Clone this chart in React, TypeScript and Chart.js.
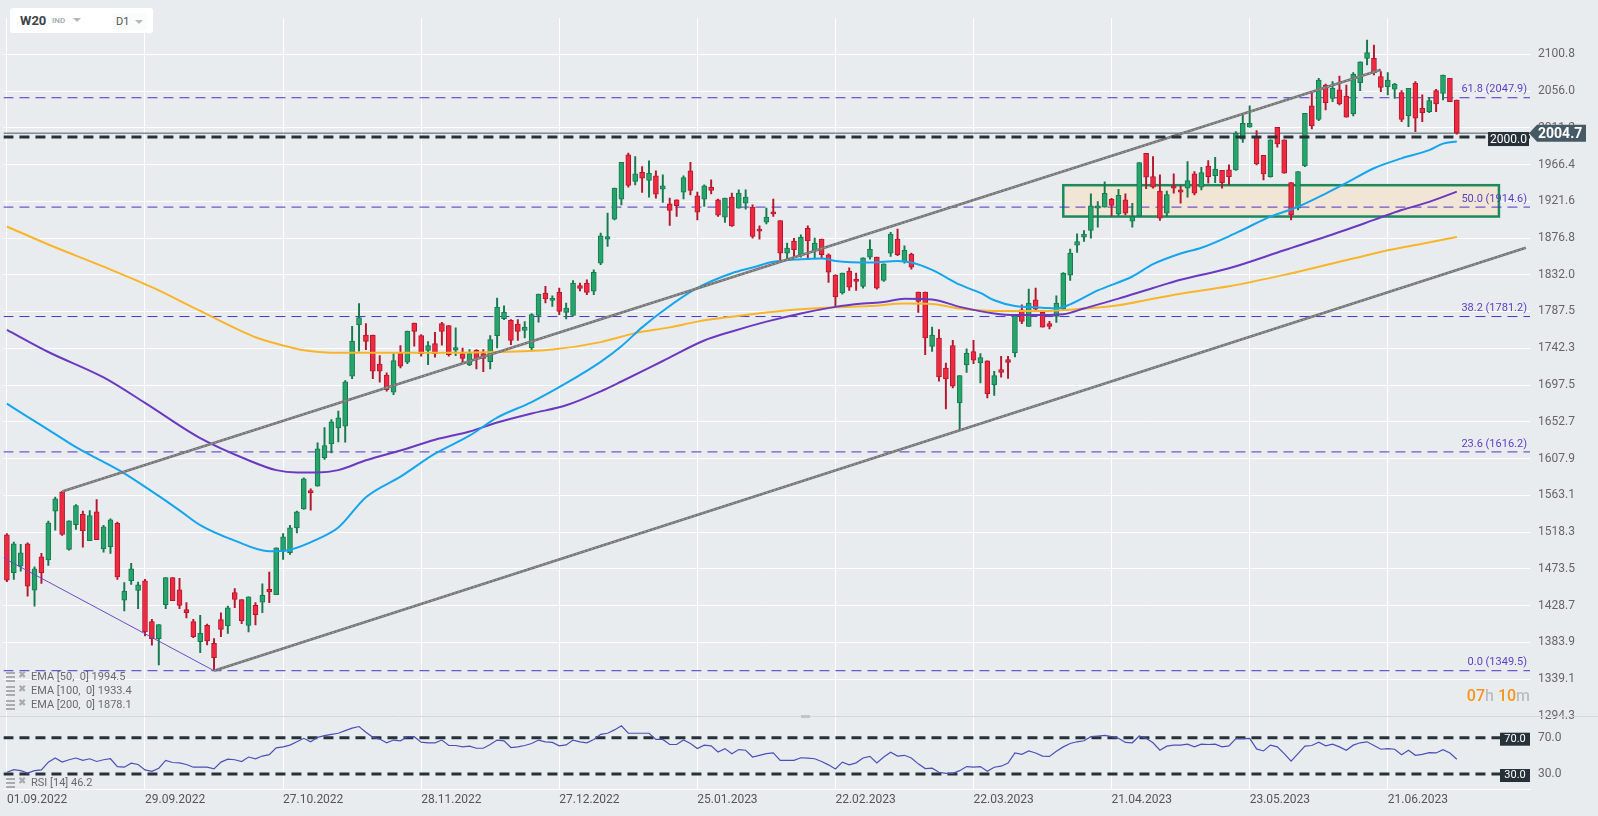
import React, { useEffect, useRef } from 'react';
import { Chart, registerables } from 'chart.js';

Chart.register(...registerables);

// ---------- DATA ----------
const tickIdx = [0, 20, 40, 60, 80, 100, 120, 140, 160, 180, 200];
const tickLabels = ['01.09.2022', '29.09.2022', '27.10.2022', '28.11.2022', '27.12.2022', '25.01.2023', '22.02.2023', '22.03.2023', '21.04.2023', '23.05.2023', '21.06.2023'];

const opens = [1515.2,1468.9,1477.0,1504.2,1447.8,1488.4,1484.4,1544.0,1567.5,1497.3,
1527.4,1540.0,1507.9,1543.2,1498.1,1500.6,1529.0,1435.6,1459.2,1447.4,
1459.2,1409.3,1388.6,1430.0,1462.9,1448.2,1423.9,1409.3,1384.9,1404.8,
1382.9,1411.7,1404.0,1444.6,1436.1,1404.8,1429.2,1433.2,1448.6,1442.1,
1494.9,1493.3,1523.7,1546.8,1569.2,1574.5,1609.0,1626.0,1645.5,1647.6,
1708.4,1770.9,1758.7,1758.7,1723.4,1710.0,1689.0,1736.8,1725.5,1773.3,
1757.9,1740.0,1748.2,1772.5,1770.1,1740.1,1736.0,1722.2,1740.1,1736.0,
1726.3,1757.9,1778.6,1776.6,1772.1,1764.4,1742.9,1782.7,1809.9,1800.9,
1811.1,1786.3,1782.7,1818.8,1822.0,1812.0,1846.3,1875.6,1899.9,1924.3,
1978.2,1945.8,1957.1,1947.0,1952.7,1936.4,1918.6,1923.5,1932.8,1958.8,
1928.3,1924.3,1938.9,1923.5,1902.4,1926.7,1913.3,1919.4,1914.5,1887.7,
1896.3,1908.8,1898.3,1858.5,1873.1,1856.5,1888.6,1861.8,1875.6,1856.5,
1831.7,1809.9,1836.6,1826.9,1818.0,1853.7,1853.7,1825.2,1858.5,1875.6,
1848.4,1857.3,1811.0,1811.0,1744.9,1755.0,1718.5,1745.7,1675.9,1722.2,
1738.4,1724.6,1727.1,1697.8,1716.5,1728.7,1736.8,1789.5,1769.2,1801.7,
1786.3,1772.5,1781.4,1790.3,1831.7,1868.2,1877.9,1886.1,1913.3,1914.5,
1924.2,1906.4,1923.4,1897.4,1904.0,1980.2,1951.8,1934.0,1907.2,1940.5,
1935.6,1937.6,1955.1,1939.0,1964.4,1953.0,1959.5,1960.0,1960.0,1997.3,
2011.9,2000.3,1977.8,1951.8,2011.9,1996.5,1944.5,1913.3,1964.8,2037.9,
2021.6,2063.4,2047.2,2057.4,2050.0,2028.1,2066.3,2095.9,2095.9,2073.6,
2061.4,2058.2,2054.1,2025.7,2065.5,2035.0,2031.0,2056.5,2053.3,2071.6,
2045.2];

const highs = [1516.8,1506.3,1503.4,1505.5,1476.2,1492.5,1531.8,1561.0,1568.3,1532.2,
1552.1,1544.0,1544.8,1558.2,1526.6,1534.7,1530.6,1456.8,1480.3,1457.6,
1460.8,1412.1,1405.6,1462.9,1462.9,1462.0,1432.4,1412.1,1417.0,1406.4,
1388.6,1420.2,1428.3,1449.5,1436.1,1439.7,1432.4,1455.5,1469.7,1499.4,
1516.8,1526.6,1544.0,1584.6,1571.2,1627.3,1645.9,1655.7,1666.0,1703.1,
1769.3,1796.9,1772.5,1758.7,1733.6,1712.5,1736.0,1745.8,1763.6,1773.3,
1759.1,1750.6,1762.0,1774.2,1770.1,1767.3,1742.9,1740.9,1740.9,1740.9,
1757.9,1803.8,1794.4,1777.4,1777.4,1775.0,1784.7,1808.7,1818.0,1806.6,
1816.0,1797.7,1824.9,1822.0,1826.0,1838.0,1882.9,1907.2,1937.7,1969.3,
1980.3,1976.2,1964.0,1970.9,1958.8,1953.9,1925.5,1923.5,1952.7,1969.3,
1932.8,1941.7,1947.8,1924.3,1925.5,1931.6,1935.6,1935.6,1917.4,1891.8,
1913.3,1924.3,1898.3,1870.7,1876.4,1880.8,1891.8,1876.8,1875.6,1857.7,
1832.1,1834.2,1840.7,1834.2,1852.9,1874.7,1853.7,1845.5,1883.7,1887.7,
1867.4,1858.5,1811.0,1811.0,1768.4,1765.2,1724.6,1752.2,1709.2,1741.7,
1752.2,1736.0,1727.1,1714.5,1732.7,1732.7,1782.2,1795.6,1814.7,1815.9,
1786.3,1775.3,1806.5,1834.9,1863.4,1882.0,1886.1,1930.7,1921.4,1945.3,
1925.4,1936.4,1930.7,1919.3,1968.8,1980.2,1976.2,1953.8,1934.0,1955.1,
1940.5,1970.1,1957.9,1963.2,1971.3,1975.4,1959.5,1966.1,2006.6,2026.9,
2037.9,2007.8,1977.8,1996.5,2011.9,1996.5,1944.5,1957.9,2029.0,2053.3,
2071.6,2064.6,2067.5,2074.4,2063.4,2078.5,2091.8,2118.2,2112.1,2079.7,
2078.5,2065.5,2056.5,2059.4,2067.5,2051.3,2048.4,2058.2,2075.6,2071.6,
2045.2];

const lows = [1458.0,1460.8,1470.9,1440.5,1428.3,1456.0,1477.9,1520.9,1514.4,1496.5,
1521.7,1500.2,1507.9,1509.1,1494.1,1492.5,1460.8,1422.3,1454.7,1425.1,
1391.8,1380.5,1356.5,1425.1,1434.8,1425.1,1413.7,1389.8,1371.6,1380.9,
1349.5,1391.0,1395.1,1426.3,1406.8,1396.7,1405.2,1420.2,1432.4,1442.1,
1485.2,1491.2,1517.6,1546.0,1545.2,1574.5,1607.0,1615.0,1628.5,1628.1,
1705.6,1738.9,1740.9,1705.6,1701.1,1690.2,1686.1,1718.6,1723.8,1745.0,
1732.8,1722.6,1731.6,1746.2,1732.8,1733.6,1724.7,1721.4,1717.3,1714.1,
1717.3,1742.9,1777.4,1747.0,1752.2,1755.1,1740.9,1774.2,1797.7,1793.6,
1783.5,1778.2,1782.7,1812.3,1807.8,1808.0,1844.3,1866.6,1899.1,1917.4,
1938.9,1941.7,1932.4,1926.7,1925.5,1920.2,1892.2,1903.2,1924.7,1929.5,
1899.1,1915.3,1930.8,1903.2,1895.9,1891.0,1913.3,1912.1,1876.8,1875.6,
1894.2,1903.2,1849.6,1849.6,1853.7,1853.7,1850.4,1852.4,1852.4,1822.8,
1794.4,1808.6,1813.1,1813.1,1815.9,1851.2,1814.7,1824.0,1854.5,1855.3,
1846.3,1839.0,1786.3,1734.8,1738.8,1702.3,1668.6,1694.2,1643.4,1713.2,
1723.8,1700.3,1682.0,1685.2,1707.2,1705.9,1731.9,1772.5,1769.2,1789.5,
1768.4,1766.0,1774.1,1789.5,1825.2,1859.3,1872.7,1876.8,1890.1,1914.5,
1903.9,1903.9,1905.1,1890.1,1903.1,1937.2,1937.6,1898.3,1903.9,1931.5,
1919.3,1926.7,1929.5,1935.6,1943.7,1944.5,1937.6,1941.7,1959.2,1993.3,
2011.9,1966.1,1947.8,1951.0,1987.6,1955.9,1899.1,1911.3,1964.0,2010.0,
2020.0,2033.0,2043.2,2039.1,2024.1,2025.7,2056.5,2087.8,2075.6,2055.3,
2051.3,2047.2,2018.8,2012.7,2006.6,2018.8,2029.8,2031.0,2045.2,2043.2,
2003.5];

const closes = [1460.0,1504.2,1493.3,1452.7,1473.8,1468.9,1529.8,1559.0,1515.6,1532.2,
1550.9,1520.1,1538.7,1509.1,1524.9,1533.5,1463.7,1446.6,1473.8,1454.3,
1396.7,1388.6,1405.6,1462.9,1434.8,1429.2,1420.2,1391.0,1395.1,1385.7,
1365.5,1399.9,1426.3,1436.4,1410.1,1439.7,1417.8,1441.3,1445.4,1499.4,
1512.8,1523.7,1543.2,1583.4,1566.3,1620.0,1624.0,1652.8,1657.7,1701.5,
1751.4,1779.8,1751.0,1714.5,1714.5,1692.2,1727.5,1720.6,1763.6,1763.2,
1736.0,1745.8,1736.0,1763.2,1734.8,1743.3,1730.3,1736.0,1729.5,1730.3,
1753.0,1792.8,1786.7,1752.2,1763.2,1768.5,1783.5,1808.7,1802.6,1803.8,
1787.5,1791.6,1822.0,1815.6,1810.7,1835.0,1879.6,1878.8,1937.7,1969.3,
1940.9,1955.1,1949.8,1955.9,1930.4,1940.5,1910.5,1916.2,1950.6,1934.8,
1908.4,1940.5,1934.8,1904.8,1925.5,1891.8,1931.6,1926.7,1878.8,1885.3,
1902.4,1906.4,1858.5,1864.6,1862.6,1878.0,1873.5,1870.7,1856.5,1835.4,
1805.0,1834.2,1817.1,1824.0,1852.9,1863.4,1815.9,1845.5,1881.7,1856.5,
1861.8,1841.5,1799.7,1755.0,1758.7,1707.6,1705.1,1696.2,1709.2,1736.8,
1727.9,1731.1,1687.3,1709.2,1713.2,1725.4,1782.2,1775.3,1797.7,1790.3,
1768.4,1769.2,1797.6,1834.1,1858.5,1872.7,1881.6,1916.1,1916.1,1931.5,
1916.5,1929.1,1907.2,1903.1,1968.8,1951.0,1938.8,1901.1,1929.9,1937.6,
1932.7,1946.9,1931.5,1956.7,1951.8,1960.8,1944.5,1951.8,2004.6,2016.8,
2016.8,1967.3,1955.1,1996.5,1991.6,1955.9,1905.2,1957.9,2029.0,2013.5,
2069.5,2041.9,2059.4,2040.3,2024.1,2076.8,2091.8,2102.8,2078.5,2060.6,
2069.5,2064.6,2021.6,2059.4,2022.9,2029.8,2044.4,2040.3,2075.6,2043.2,
2004.7];

const rsi14 = [31.9,34.9,33.7,31.1,33.7,34.5,43.1,47.6,43.1,45.7,
47.6,45.0,46.8,43.8,45.7,46.8,38.2,37.5,42.0,40.5,
34.5,33.0,36.4,45.0,42.7,42.3,40.5,37.5,37.5,37.5,
35.6,43.1,46.4,45.7,43.8,48.7,46.8,49.8,51.3,58.8,
59.9,61.8,65.5,69.3,65.5,70.4,72.2,73.7,74.9,77.8,
80.5,82.3,76.0,70.4,68.5,64.4,67.4,66.6,71.1,71.1,
65.1,64.4,64.4,67.4,61.4,61.4,59.9,60.7,58.4,58.4,
62.5,67.4,66.6,59.2,59.9,61.4,63.6,67.4,65.5,64.8,
61.0,62.1,67.4,65.5,64.4,68.1,73.7,74.9,78.6,83.1,
74.9,74.9,74.9,74.9,68.1,68.1,62.5,62.5,67.4,63.6,
58.0,61.8,61.0,54.3,58.0,52.4,56.9,56.2,48.7,50.6,
52.4,53.2,45.0,45.0,45.0,47.9,47.6,46.8,43.8,40.1,
35.6,43.1,40.1,42.3,47.6,49.4,42.3,48.7,53.9,49.8,
50.6,47.6,41.2,36.0,36.4,31.9,30.8,30.8,33.7,38.2,
37.5,38.2,33.0,37.5,38.6,42.0,53.2,51.7,55.4,53.2,
49.8,49.4,55.0,59.9,63.6,65.5,66.6,71.1,71.9,72.6,
71.1,69.3,64.8,64.4,71.9,69.3,64.4,56.2,60.7,61.8,
61.8,62.9,59.9,62.9,62.5,62.9,59.9,61.0,68.9,68.9,
69.3,57.7,55.4,61.8,59.9,52.4,44.2,52.4,60.7,61.4,
65.1,61.0,62.9,59.9,56.2,61.8,64.4,65.5,61.4,57.3,
58.0,57.3,51.3,56.2,50.6,51.7,53.6,53.2,56.9,53.2,
46.2];

// EMA values at bar positions [bar, value]
const ema50Pts = [[0,1675],[3,1659],[7,1638],[10,1622],[14,1604],[17,1590],[21,1568],[25,1545],[28,1527],[33,1508],[38,1495],[41,1497],[45,1510],[48,1524],[52,1561],[57,1586],[62,1614],[67,1636],[71,1658],[76,1677],[81,1700],[86,1726],[89,1745],[92,1768],[95,1788],[100,1816],[105,1834],[108,1841],[111,1848],[115,1851],[118,1852],[120,1849],[125,1847],[129,1849],[131,1847],[134,1838],[138,1820],[141,1810],[143,1801],[146,1794],[150,1792],[152,1791],[154,1796],[158,1813],[163,1830],[166,1845],[170,1858],[173,1865],[177,1879],[179,1887],[183,1903],[187,1915],[191,1931],[194,1944],[198,1962],[202,1974],[206,1984],[208,1992],[210,1994.5]];
const ema100Pts = [[0,1765],[6,1738],[14,1707],[20,1676],[28,1633],[35,1606],[39,1594],[42,1591],[45,1591],[48,1594],[52,1606],[57,1618],[62,1631],[67,1641],[71,1652],[76,1663],[81,1673],[86,1690],[89,1702],[95,1727],[101,1752],[105,1763],[110,1775],[115,1785],[120,1793],[124,1797],[127,1799],[130,1803],[134,1802],[138,1793],[143,1785],[146,1783],[150,1783],[153,1784],[156,1791],[161,1803],[166,1816],[170,1826],[177,1840],[185,1862],[194,1887],[198,1899],[202,1911],[206,1921],[210,1933.4]];
const ema200Pts = [[0,1891],[6,1869],[14,1842],[21,1817],[28,1788],[36,1756],[40,1746],[43,1740],[47,1737],[57,1737],[64,1737],[71,1738],[79,1741],[86,1750],[91,1761],[96,1768],[100,1775],[105,1781],[110,1786],[115,1790],[120,1792.5],[125,1794],[130,1797],[134,1796.5],[138,1791],[143,1788],[150,1788],[156,1791],[161,1795],[166,1803],[170,1809],[177,1818],[185,1832],[195,1852],[200,1862],[205,1870],[210,1878.1]];

const upperChannel = [[8, 1568], [199, 2082]];
const lowerChannel = [[30, 1349.5], [220, 1865]];
const downTrend = [[-0.5, 1487], [30, 1349.5]];

const fibLevels = [2047.9, 1914.6, 1781.2, 1616.2, 1349.5];
const fibNames = ['61.8', '50.0', '38.2', '23.6', '0.0'];

const priceTicks = [1294.3, 1339.1, 1383.9, 1428.7, 1473.5, 1518.3, 1563.1, 1607.9, 1652.7, 1697.5, 1742.3, 1787.5, 1832.0, 1876.8, 1921.6, 1966.4, 2011.2, 2056.0, 2100.8];
const rsiTicks = [30, 70];

const zoneX = [153, 216.1];
const zoneY = [1903.1, 1941.3];

const keyLevel = 2000.0;
const lastPrice = 2004.7;

const emaLegend = [['50', '1994.5'], ['100', '1933.4'], ['200', '1878.1']];
const rsiLegend = '46.2';

// ---------- STYLE ----------
const BG = '#e9ecef';
const UP_FILL = '#25a46c';
const UP_LINE = '#17794d';
const DN_FILL = '#ee2a40';
const DN_LINE = '#b5172c';
const FIB = '#4b35c4';
const DARK = '#263238';
const X_MIN = -0.5;
const X_MAX = 220.6;

const overlayPlugin = {
  id: 'overlay',
  beforeDraw(chart: any) {
    const { ctx, width, height } = chart;
    ctx.save();
    ctx.fillStyle = BG;
    ctx.fillRect(0, 0, width, height);
    ctx.restore();
  },
  beforeDatasetsDraw(chart: any) {
    const { ctx } = chart;
    const x = chart.scales.x, y = chart.scales.y;
    const x0 = x.getPixelForValue(zoneX[0]), x1 = x.getPixelForValue(zoneX[1]);
    const y0 = y.getPixelForValue(zoneY[1]), y1 = y.getPixelForValue(zoneY[0]);
    ctx.save();
    ctx.fillStyle = '#f1e5d5';
    ctx.fillRect(x0, y0, x1 - x0, y1 - y0);
    ctx.strokeStyle = '#1d8a5b';
    ctx.lineWidth = 2.5;
    ctx.strokeRect(x0, y0, x1 - x0, y1 - y0);
    ctx.restore();
  },
  afterDraw(chart: any) {
    const { ctx, chartArea } = chart;
    const y = chart.scales.y, yR = chart.scales.yR;
    const xr = chartArea.right;
    ctx.save();
    // panel separator
    const sepY = Math.round(y.bottom) + 0.5;
    ctx.strokeStyle = '#d3d7dc';
    ctx.lineWidth = 1;
    ctx.beginPath(); ctx.moveTo(0, sepY); ctx.lineTo(chart.width, sepY); ctx.stroke();
    ctx.fillStyle = '#c2c4c7';
    ctx.fillRect(801, sepY - 1.5, 9, 3);
    // fib labels
    ctx.font = '11px Roboto';
    ctx.textAlign = 'right';
    ctx.textBaseline = 'middle';
    ctx.fillStyle = '#5a3ec6';
    fibLevels.forEach((l, k) => {
      ctx.fillText(`${fibNames[k]} (${l.toFixed(1)})`, xr - 3, y.getPixelForValue(l) - 8);
    });
    // key level box
    const ky = y.getPixelForValue(keyLevel);
    ctx.fillStyle = DARK;
    ctx.fillRect(xr - 42, ky - 5, 41, 14);
    ctx.fillStyle = '#ffffff';
    ctx.font = '12px Roboto';
    ctx.textAlign = 'center';
    ctx.fillText(keyLevel.toFixed(1), xr - 21.5, ky + 2.5);
    // last price arrow label
    const ly = y.getPixelForValue(lastPrice);
    ctx.fillStyle = '#455a64';
    ctx.beginPath();
    ctx.moveTo(xr - 1, ly);
    ctx.lineTo(xr + 7, ly - 8.5);
    ctx.lineTo(xr + 56, ly - 8.5);
    ctx.lineTo(xr + 56, ly + 8.5);
    ctx.lineTo(xr + 7, ly + 8.5);
    ctx.closePath();
    ctx.fill();
    ctx.fillStyle = '#ffffff';
    ctx.font = 'bold 14px Roboto';
    ctx.textAlign = 'left';
    ctx.fillText(lastPrice.toFixed(1), xr + 8, ly + 1);
    // RSI level boxes
    ctx.font = '11px Roboto';
    ctx.textAlign = 'center';
    rsiTicks.forEach((v) => {
      const py = yR.getPixelForValue(v);
      ctx.fillStyle = DARK;
      ctx.fillRect(xr - 30, py - 5, 30, 13);
      ctx.fillStyle = '#ffffff';
      ctx.fillText(v.toFixed(1), xr - 15, py + 1.5);
    });
    ctx.restore();
  },
};

const Icon = () => (
  <span style={{ position: 'absolute', left: 0, top: 2, width: 22, height: 10 }}>
    <span style={{ position: 'absolute', left: 0, top: 0, width: 9, height: 2, background: '#a9abae' }} />
    <span style={{ position: 'absolute', left: 0, top: 4, width: 9, height: 2, background: '#a9abae' }} />
    <span style={{ position: 'absolute', left: 0, top: 8, width: 9, height: 2, background: '#a9abae' }} />
    <span style={{ position: 'absolute', left: 12, top: -3, fontSize: 10, color: '#a9abae', fontFamily: 'DejaVu Sans' }}>✖</span>
  </span>
);

const Tri = ({ left, top }: { left: number; top: number }) => (
  <span style={{ position: 'absolute', left, top, width: 0, height: 0, borderLeft: '4px solid transparent', borderRight: '4px solid transparent', borderTop: '4px solid #b3b8bd' }} />
);

export default function App() {
  const ref = useRef<HTMLCanvasElement | null>(null);

  useEffect(() => {
    document.body.style.margin = '0';
    document.body.style.background = BG;
    const canvas = ref.current;
    if (!canvas) return;
    Chart.defaults.font.family = "Roboto, 'Noto Sans', sans-serif";

    const n = opens.length;
    const idx = Array.from({ length: n }, (_, i) => i);
    const up = idx.map((i) => closes[i] >= opens[i]);
    const wickData = idx.map((i) => ({ x: i, y: [Math.min(lows[i], opens[i], closes[i]), Math.max(highs[i], opens[i], closes[i])] }));
    const bodyData = idx.map((i) => ({ x: i, y: [opens[i], closes[i]] }));
    const pts = (a: number[][]) => a.map(([x, y]) => ({ x, y }));
    const hline = (v: number) => [{ x: X_MIN, y: v }, { x: X_MAX, y: v }];
    const line = (data: any, color: string, width: number, order: number, extra: any = {}) => ({
      type: 'line', data, borderColor: color, borderWidth: width, pointRadius: 0, fill: false,
      xAxisID: 'x', yAxisID: 'y', order, ...extra,
    });

    const datasets: any[] = [
      ...fibLevels.map((l) => line(hline(l), FIB, 1, 20, { borderDash: [10, 6] })),
      line(hline(lastPrice), '#455a64', 1, 19),
      { type: 'bar', data: wickData, backgroundColor: up.map((u) => (u ? UP_LINE : DN_LINE)), barThickness: 1.3, grouped: false, order: 10, xAxisID: 'x', yAxisID: 'y' },
      { type: 'bar', data: bodyData, backgroundColor: up.map((u) => (u ? UP_FILL : DN_FILL)), borderColor: up.map((u) => (u ? UP_LINE : DN_LINE)), borderWidth: 1, borderSkipped: false, barThickness: 5, grouped: false, order: 9, xAxisID: 'x', yAxisID: 'y' },
      line(pts(ema200Pts), '#f8b52a', 2, 5, { cubicInterpolationMode: 'monotone' }),
      line(pts(ema100Pts), '#6b39c0', 2, 4, { cubicInterpolationMode: 'monotone' }),
      line(pts(ema50Pts), '#14a5ee', 2, 3, { cubicInterpolationMode: 'monotone' }),
      line(pts(upperChannel), '#737373', 2.6, 2),
      line(pts(lowerChannel), '#737373', 2.6, 2),
      line(pts(upperChannel), '#a3a3a3', 1, 1.5, { borderDash: [2, 2] }),
      line(pts(lowerChannel), '#a3a3a3', 1, 1.5, { borderDash: [2, 2] }),
      line(pts(downTrend), '#6a4cc6', 1, 2),
      line(hline(keyLevel), DARK, 3, 1, { borderDash: [10, 6] }),
      line(hline(70), DARK, 3, 1, { borderDash: [10, 6], yAxisID: 'yR' }),
      line(hline(30), DARK, 3, 1, { borderDash: [10, 6], yAxisID: 'yR' }),
      line(rsi14.map((v, i) => ({ x: i, y: v })), '#4b50b6', 1.2, 0, { yAxisID: 'yR' }),
    ];

    const chart = new Chart(canvas, {
      type: 'bar',
      data: { datasets },
      plugins: [overlayPlugin],
      options: {
        animation: false,
        responsive: false,
        events: [],
        layout: { padding: { left: 3.45, top: 18, right: 0, bottom: 0 } },
        plugins: { legend: { display: false }, tooltip: { enabled: false } },
        scales: {
          x: {
            type: 'linear', position: 'bottom', min: X_MIN, max: X_MAX, offset: false,
            afterBuildTicks: (s: any) => { s.ticks = tickIdx.map((v) => ({ value: v })); },
            afterFit: (s: any) => { s.height = 27; },
            ticks: {
              callback: (v: any) => { const k = tickIdx.indexOf(Number(v)); return k >= 0 ? tickLabels[k] : ''; },
              align: 'start', maxRotation: 0, autoSkip: false, padding: 4, color: '#555', font: { size: 12 },
            },
            grid: { color: '#ffffff', drawTicks: false, lineWidth: 1, offset: false },
            border: { display: true, color: '#ffffff' },
          },
          y: {
            type: 'linear', position: 'right', stack: 'panes', stackWeight: 698,
            min: 1294.3, max: 2145.1,
            afterBuildTicks: (s: any) => { s.ticks = priceTicks.map((v) => ({ value: v })); },
            afterFit: (s: any) => { s.width = 68; },
            ticks: { callback: (v: any) => Number(v).toFixed(1), autoSkip: false, padding: 8, color: '#666', font: { size: 12 } },
            grid: { color: '#ffffff', drawTicks: false, lineWidth: 1 },
            border: { display: false },
          },
          yR: {
            type: 'linear', position: 'right', stack: 'panes', stackWeight: 73,
            min: 13.5, max: 93.9,
            afterBuildTicks: (s: any) => { s.ticks = rsiTicks.map((v) => ({ value: v })); },
            afterFit: (s: any) => { s.width = 68; },
            ticks: { callback: (v: any) => Number(v).toFixed(1), autoSkip: false, padding: 8, color: '#666', font: { size: 12 } },
            grid: { display: false, drawTicks: false },
            border: { display: false },
          },
        },
      } as any,
    } as any);
    return () => chart.destroy();
  }, []);

  return (
    <div style={{ position: 'relative', width: 1598, height: 816, background: BG, overflow: 'hidden', fontFamily: "Roboto, 'Noto Sans', sans-serif" }}>
      <canvas ref={ref} width={1598} height={816} style={{ position: 'absolute', left: 0, top: 0, width: 1598, height: 816 }} />
      {/* instrument box */}
      <div style={{ position: 'absolute', left: 10, top: 8, width: 143, height: 25, background: '#ffffff', borderRadius: 3 }}>
        <span style={{ position: 'absolute', left: 10, top: 5, fontSize: 13, fontWeight: 700, color: '#3d4248', lineHeight: '15px' }}>W20</span>
        <span style={{ position: 'absolute', left: 42, top: 8, fontSize: 8, fontWeight: 700, color: '#a7b0ba', lineHeight: '10px' }}>IND</span>
        <Tri left={63} top={10} />
        <div style={{ position: 'absolute', left: 102, top: 5, width: 35, height: 17, background: '#fafbfb', borderRadius: 2 }}>
          <span style={{ position: 'absolute', left: 4, top: 2, fontSize: 11, color: '#555', lineHeight: '13px' }}>D1</span>
          <Tri left={23} top={7} />
        </div>
      </div>
      {/* indicator legends */}
      {emaLegend.map(([p, v], k) => (
        <div key={p} style={{ position: 'absolute', left: 6, top: 670 + k * 14.2, height: 14, width: 200 }}>
          <Icon />
          <span style={{ position: 'absolute', left: 25, top: 0, fontSize: 11, color: '#6a6a6a', whiteSpace: 'pre', lineHeight: '14px' }}>{`EMA [${p},  0] ${v}`}</span>
        </div>
      ))}
      <div style={{ position: 'absolute', left: 6, top: 776, height: 14, width: 200 }}>
        <Icon />
        <span style={{ position: 'absolute', left: 25, top: 0, fontSize: 11, color: '#6a6a6a', whiteSpace: 'pre', lineHeight: '14px' }}>{`RSI [14] ${rsiLegend}`}</span>
      </div>
      {/* session timer */}
      <div style={{ position: 'absolute', right: 68, top: 686, fontSize: 16, fontWeight: 500, lineHeight: '20px', whiteSpace: 'pre' }}>
        <span style={{ color: '#f7941d' }}>07</span>
        <span style={{ color: '#bdbdbd' }}>h </span>
        <span style={{ color: '#f7941d' }}>10</span>
        <span style={{ color: '#bdbdbd' }}>m</span>
      </div>
    </div>
  );
}
